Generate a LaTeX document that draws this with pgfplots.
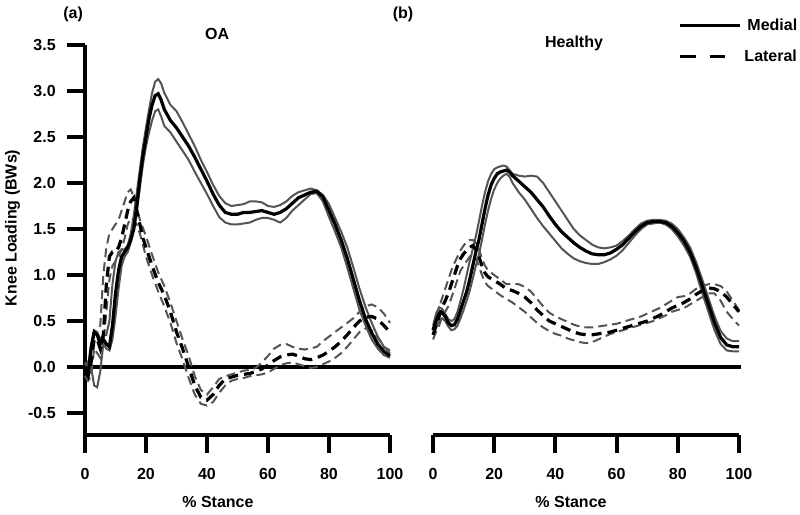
\documentclass[border=0pt]{standalone}
\usepackage{fontspec}
\setmainfont{Liberation Sans}
\usepackage{pgfplots}
\pgfplotsset{compat=1.18}
\definecolor{sdgray}{gray}{0.33}
\newcommand{\lbl}{\fontsize{16}{19}\selectfont\bfseries}
\pgfplotsset{
  panel/.style={
    scale only axis, height=390pt,
    xmin=0, xmax=100, ymin=-0.739, ymax=3.5,
    xtick={0,20,40,60,80,100},
    axis x line*=bottom,
    /pgf/number format/assume math mode=true,
    tick label style={font=\lbl},
    xticklabel style={yshift=-10pt},
    yticklabel style={xshift=-6pt},
    label style={font=\lbl},
    title style={font=\lbl},
    clip=false,
  },
  heavy/.style={
    line width=4pt,
    every axis/.append style={line width=4pt},
    axis line style={line width=4pt, black, -},
    every tick/.append style={line width=4pt, black},
    xtick align=outside, ytick align=outside, major tick length=18pt,
  },
  mmean/.style={black, line width=3.2pt},
  msd/.style={sdgray, line width=2pt},
  lmean/.style={black, line width=3.2pt, dash pattern=on 10pt off 6pt},
  lsd/.style={sdgray, line width=2pt, dash pattern=on 9pt off 5pt},
}
\begin{document}
\begin{tikzpicture}[x=1pt,y=1pt]
\useasboundingbox (0,0) rectangle (800,514);
%================ (a) OA =================
\begin{axis}[panel, width=305pt, at={(85pt,79pt)}, anchor=south west,
  axis y line*=left,
  ytick={-0.5,0,0.5,1,1.5,2,2.5,3,3.5},
  yticklabel style={/pgf/number format/.cd, fixed, fixed zerofill, precision=1},
  xlabel={\% Stance},
  xlabel style={at={(axis description cs:0.436,0)}, anchor=center, yshift=-67pt},
  ylabel={Knee Loading (BWs)},
  ylabel style={at={(axis description cs:-0.2377,0.531)}, anchor=center},
  title={OA},
  title style={at={(axis description cs:0.433,1.013)}, anchor=center},
  heavy,
]
\addplot[black, line width=4pt, forget plot] coordinates {(0,0) (215.1,0)};
% lateral SD
\addplot[lsd] coordinates {(0,0.02) (1,0.05) (2,0.15) (3,0.35) (4,0.4) (5,0.45) (6,1.0) (7,1.3) (8,1.45) (9,1.5) (10,1.55) (11,1.6) (12,1.7) (13,1.8) (14,1.9) (15,1.93) (16,1.85) (17,1.72) (18,1.6) (20,1.42) (22,1.22) (24,1.03) (26,0.88) (28,0.7) (30,0.5) (32,0.3) (34,0.12) (36,-0.1) (38,-0.25) (40,-0.3) (42,-0.22) (44,-0.13) (46,-0.1) (48,-0.08) (50,-0.06) (52,-0.04) (54,-0.03) (56,-0.01) (58,0.05) (60,0.12) (62,0.2) (64,0.24) (66,0.25) (68,0.22) (70,0.2) (72,0.19) (74,0.2) (76,0.22) (78,0.28) (80,0.33) (82,0.38) (84,0.43) (86,0.48) (88,0.53) (90,0.6) (92,0.66) (94,0.68) (96,0.65) (98,0.58) (100,0.48)};
\addplot[lsd] coordinates {(0,-0.1) (1,-0.15) (2,-0.1) (3,0.2) (4,0.15) (5,0.1) (6,0.25) (7,0.6) (8,0.95) (9,1.1) (10,1.15) (11,1.2) (12,1.28) (13,1.4) (14,1.55) (15,1.62) (16,1.6) (17,1.55) (18,1.45) (20,1.2) (22,1.0) (24,0.82) (26,0.66) (28,0.48) (30,0.26) (32,0.08) (34,-0.12) (36,-0.3) (38,-0.4) (40,-0.42) (42,-0.38) (44,-0.28) (46,-0.2) (48,-0.15) (50,-0.13) (52,-0.12) (54,-0.1) (56,-0.09) (58,-0.08) (60,-0.06) (62,-0.02) (64,0.02) (66,0.04) (68,0.05) (70,0.03) (72,0.01) (74,-0.01) (76,0.0) (78,0.03) (80,0.06) (82,0.1) (84,0.15) (86,0.22) (88,0.3) (90,0.38) (92,0.42) (94,0.4) (96,0.32) (98,0.22) (100,0.18)};
% medial SD
\addplot[msd] coordinates {(0,0.05) (1,0.0) (2,0.25) (3,0.4) (4,0.38) (5,0.3) (6,0.35) (7,0.35) (8,0.5) (9,0.9) (10,1.15) (11,1.25) (12,1.27) (13,1.28) (14,1.32) (15,1.45) (16,1.65) (17,1.9) (18,2.15) (19,2.4) (20,2.6) (21,2.8) (22,2.98) (23,3.1) (24,3.13) (25,3.08) (26,2.98) (28,2.85) (30,2.78) (32,2.66) (34,2.53) (36,2.4) (38,2.25) (40,2.12) (42,1.98) (44,1.86) (46,1.78) (48,1.75) (50,1.76) (52,1.77) (54,1.8) (56,1.8) (58,1.79) (60,1.75) (62,1.74) (64,1.76) (66,1.8) (68,1.86) (70,1.9) (72,1.92) (74,1.94) (76,1.92) (78,1.87) (80,1.77) (82,1.62) (84,1.47) (86,1.3) (88,1.08) (90,0.85) (92,0.65) (94,0.48) (96,0.33) (98,0.22) (100,0.15)};
\addplot[msd] coordinates {(0,-0.1) (1,-0.12) (2,0.0) (3,-0.2) (4,-0.22) (5,-0.05) (6,0.25) (7,0.2) (8,0.18) (9,0.3) (10,0.55) (11,0.85) (12,1.1) (13,1.2) (14,1.25) (15,1.35) (16,1.5) (17,1.7) (18,1.95) (19,2.2) (20,2.4) (21,2.55) (22,2.68) (23,2.78) (24,2.8) (25,2.72) (26,2.62) (28,2.55) (30,2.45) (32,2.35) (34,2.25) (36,2.12) (38,2.0) (40,1.88) (42,1.75) (44,1.63) (46,1.57) (48,1.55) (50,1.55) (52,1.56) (54,1.57) (56,1.6) (58,1.62) (60,1.62) (62,1.6) (64,1.57) (66,1.62) (68,1.7) (70,1.76) (72,1.82) (74,1.88) (76,1.89) (78,1.8) (80,1.63) (82,1.47) (84,1.3) (86,1.08) (88,0.85) (90,0.62) (92,0.45) (94,0.3) (96,0.2) (98,0.13) (100,0.1)};
% means
\addplot[lmean] coordinates {(0,-0.05) (1,-0.1) (2,0.05) (3,0.3) (4,0.3) (5,0.2) (6,0.35) (7,0.9) (8,1.2) (9,1.25) (10,1.25) (11,1.3) (12,1.4) (13,1.55) (14,1.7) (15,1.8) (16,1.84) (17,1.7) (18,1.55) (19,1.4) (20,1.3) (22,1.1) (24,0.92) (26,0.78) (28,0.6) (30,0.38) (32,0.2) (34,0.0) (36,-0.2) (38,-0.33) (40,-0.36) (42,-0.3) (44,-0.2) (46,-0.13) (48,-0.11) (50,-0.09) (52,-0.08) (54,-0.07) (56,-0.05) (58,-0.02) (60,0.02) (62,0.07) (64,0.11) (66,0.13) (68,0.14) (70,0.12) (72,0.09) (74,0.08) (76,0.1) (78,0.13) (80,0.17) (82,0.22) (84,0.28) (86,0.35) (88,0.43) (90,0.5) (92,0.54) (94,0.55) (96,0.52) (98,0.45) (100,0.38)};
\addplot[mmean] coordinates {(0,0.0) (1,-0.08) (2,0.2) (3,0.38) (4,0.35) (5,0.25) (6,0.3) (7,0.25) (8,0.22) (9,0.45) (10,0.8) (11,1.05) (12,1.2) (13,1.25) (14,1.3) (15,1.38) (16,1.5) (17,1.75) (18,2.05) (19,2.3) (20,2.5) (21,2.7) (22,2.85) (23,2.95) (24,2.97) (25,2.9) (26,2.8) (28,2.68) (30,2.6) (32,2.5) (34,2.4) (36,2.28) (38,2.15) (40,2.02) (42,1.88) (44,1.76) (46,1.68) (48,1.66) (50,1.66) (52,1.68) (54,1.68) (56,1.69) (58,1.7) (60,1.68) (62,1.66) (64,1.68) (66,1.72) (68,1.78) (70,1.84) (72,1.87) (74,1.9) (76,1.91) (78,1.85) (80,1.7) (82,1.55) (84,1.38) (86,1.18) (88,0.95) (90,0.72) (92,0.52) (94,0.37) (96,0.25) (98,0.17) (100,0.12)};
\node[font=\lbl] at (axis description cs:-0.039,1.0795) {(a)};
\end{axis}
%================ (b) Healthy =================
\begin{axis}[panel, width=306pt, at={(433pt,79pt)}, anchor=south west,
  hide y axis,
  xlabel={\% Stance},
  xlabel style={at={(axis description cs:0.451,0)}, anchor=center, yshift=-67pt},
  title={Healthy},
  title style={at={(axis description cs:0.461,0.990)}, anchor=center},
  legend style={at={(axis description cs:0.795,1.077)}, anchor=north west, draw=none, fill=none,
    font=\lbl, row sep=14pt, inner sep=0pt, nodes={inner sep=2pt}},
  legend cell align=left,
  heavy,
]
\addlegendimage{legend image code/.code={\draw[line width=3.2pt] (0pt,0pt) -- (60pt,0pt);}}
\addlegendentry{\hspace{4pt}Medial}
\addlegendimage{legend image code/.code={\draw[line width=3.2pt] (0pt,0pt) -- (16pt,0pt) (30pt,0pt) -- (45pt,0pt);}}
\addlegendentry{\hspace{1pt}Lateral}
% lateral SD
\addplot[lsd, forget plot] coordinates {(0,0.4) (1,0.52) (2,0.65) (3,0.75) (4,0.85) (5,0.95) (6,1.05) (7,1.13) (8,1.2) (9,1.27) (10,1.32) (11,1.36) (12,1.38) (13,1.38) (14,1.35) (15,1.28) (16,1.18) (17,1.1) (18,1.05) (20,1.0) (22,0.95) (24,0.9) (26,0.9) (28,0.9) (30,0.87) (32,0.82) (34,0.74) (36,0.66) (38,0.59) (40,0.55) (42,0.52) (44,0.49) (46,0.46) (48,0.44) (50,0.43) (52,0.43) (54,0.44) (56,0.45) (58,0.46) (60,0.47) (62,0.49) (64,0.51) (66,0.53) (68,0.55) (70,0.58) (72,0.61) (74,0.64) (76,0.68) (78,0.72) (80,0.76) (82,0.77) (84,0.8) (86,0.85) (88,0.88) (90,0.9) (92,0.9) (94,0.88) (96,0.82) (98,0.72) (100,0.62)};
\addplot[lsd, forget plot] coordinates {(0,0.3) (1,0.38) (2,0.45) (3,0.55) (4,0.6) (5,0.66) (6,0.75) (7,0.85) (8,0.95) (9,1.05) (10,1.1) (11,1.15) (12,1.2) (13,1.22) (14,1.18) (15,1.1) (16,1.0) (17,0.92) (18,0.88) (20,0.83) (22,0.78) (24,0.74) (26,0.7) (28,0.65) (30,0.6) (32,0.54) (34,0.48) (36,0.43) (38,0.39) (40,0.36) (42,0.34) (44,0.31) (46,0.29) (48,0.27) (50,0.26) (52,0.27) (54,0.3) (56,0.33) (58,0.36) (60,0.38) (62,0.4) (64,0.42) (66,0.44) (68,0.46) (70,0.48) (72,0.5) (74,0.53) (76,0.56) (78,0.6) (80,0.62) (82,0.64) (84,0.68) (86,0.72) (88,0.76) (90,0.8) (92,0.8) (94,0.72) (96,0.6) (98,0.52) (100,0.45)};
% medial SD
\addplot[msd, forget plot] coordinates {(0,0.45) (1,0.58) (2,0.65) (3,0.63) (4,0.58) (5,0.52) (6,0.5) (7,0.52) (8,0.6) (9,0.72) (10,0.85) (11,1.0) (12,1.15) (13,1.28) (14,1.42) (15,1.58) (16,1.75) (17,1.9) (18,2.02) (19,2.1) (20,2.15) (21,2.17) (22,2.18) (23,2.19) (24,2.18) (25,2.14) (26,2.1) (28,2.08) (30,2.07) (32,2.08) (34,2.07) (36,2.0) (38,1.9) (40,1.8) (42,1.7) (44,1.6) (46,1.5) (48,1.43) (50,1.38) (52,1.33) (54,1.3) (56,1.29) (58,1.3) (60,1.32) (62,1.37) (64,1.43) (66,1.5) (68,1.56) (70,1.59) (72,1.6) (74,1.6) (76,1.59) (78,1.56) (80,1.5) (82,1.41) (84,1.3) (86,1.14) (88,0.95) (90,0.75) (92,0.55) (94,0.39) (96,0.31) (98,0.28) (100,0.28)};
\addplot[msd, forget plot] coordinates {(0,0.35) (1,0.43) (2,0.5) (3,0.53) (4,0.5) (5,0.44) (6,0.4) (7,0.41) (8,0.45) (9,0.53) (10,0.62) (11,0.72) (12,0.83) (13,0.96) (14,1.1) (15,1.22) (16,1.38) (17,1.55) (18,1.7) (19,1.83) (20,1.93) (21,2.0) (22,2.05) (23,2.08) (24,2.1) (25,2.07) (26,2.0) (28,1.9) (30,1.82) (32,1.72) (34,1.62) (36,1.53) (38,1.45) (40,1.37) (42,1.29) (44,1.23) (46,1.18) (48,1.15) (50,1.13) (52,1.12) (54,1.12) (56,1.14) (58,1.17) (60,1.21) (62,1.27) (64,1.35) (66,1.43) (68,1.5) (70,1.55) (72,1.56) (74,1.57) (76,1.55) (78,1.5) (80,1.42) (82,1.32) (84,1.2) (86,1.02) (88,0.8) (90,0.6) (92,0.4) (94,0.25) (96,0.18) (98,0.17) (100,0.17)};
% means
\addplot[lmean, forget plot] coordinates {(0,0.35) (1,0.45) (2,0.55) (3,0.65) (4,0.72) (5,0.8) (6,0.9) (7,1.0) (8,1.1) (9,1.18) (10,1.23) (11,1.27) (12,1.3) (13,1.32) (14,1.28) (15,1.2) (16,1.1) (17,1.02) (18,0.98) (20,0.94) (22,0.9) (24,0.85) (26,0.83) (28,0.8) (30,0.76) (32,0.7) (34,0.62) (36,0.56) (38,0.5) (40,0.47) (42,0.44) (44,0.41) (46,0.38) (48,0.36) (50,0.35) (52,0.35) (54,0.36) (56,0.37) (58,0.38) (60,0.4) (62,0.42) (64,0.44) (66,0.46) (68,0.48) (70,0.5) (72,0.53) (74,0.56) (76,0.6) (78,0.64) (80,0.67) (82,0.7) (84,0.74) (86,0.79) (88,0.83) (90,0.86) (92,0.85) (94,0.82) (96,0.76) (98,0.68) (100,0.6)};
\addplot[mmean, forget plot] coordinates {(0,0.4) (1,0.5) (2,0.58) (3,0.59) (4,0.55) (5,0.48) (6,0.45) (7,0.46) (8,0.52) (9,0.62) (10,0.72) (11,0.82) (12,0.95) (13,1.1) (14,1.25) (15,1.38) (16,1.55) (17,1.72) (18,1.87) (19,1.98) (20,2.05) (21,2.1) (22,2.12) (23,2.13) (24,2.14) (25,2.12) (26,2.08) (28,2.02) (30,1.96) (32,1.9) (34,1.82) (36,1.74) (38,1.64) (40,1.55) (42,1.47) (44,1.41) (46,1.35) (48,1.3) (50,1.26) (52,1.23) (54,1.22) (56,1.22) (58,1.24) (60,1.28) (62,1.33) (64,1.4) (66,1.47) (68,1.53) (70,1.57) (72,1.58) (74,1.58) (76,1.57) (78,1.53) (80,1.46) (82,1.37) (84,1.25) (86,1.08) (88,0.88) (90,0.68) (92,0.48) (94,0.32) (96,0.24) (98,0.22) (100,0.22)};
\node[font=\lbl] at (axis description cs:-0.098,1.0795) {(b)};
\end{axis}
\end{tikzpicture}
\end{document}
